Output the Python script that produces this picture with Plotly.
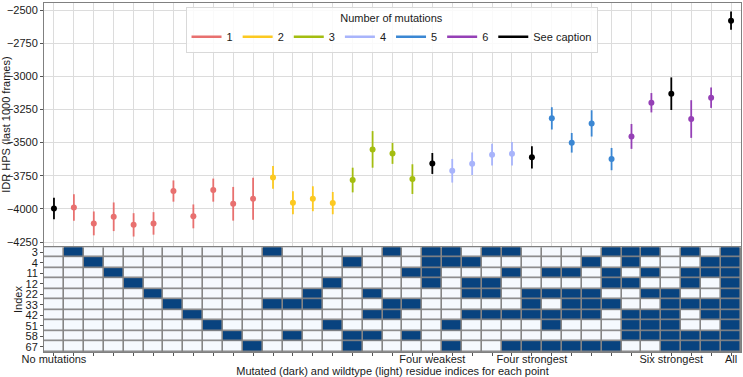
import plotly.graph_objects as go

# ---------------- data ----------------
positions = list(range(35))
hps_mean = [-3996, -3989, -4109, -4059, -4120, -4109, -3865, -4056, -3858, -3961,
            -3923, -3762, -3953, -3923, -3956, -3782, -3551, -3581, -3775, -3657,
            -3712, -3659, -3591, -3584, -3611, -3317, -3501, -3355, -3624, -3453,
            -3199, -3131, -3322, -3161, -2580]
hps_err = [81, 100, 90, 108, 88, 85, 80, 90, 87, 127,
           159, 85, 87, 94, 84, 93, 138, 79, 112, 79,
           89, 85, 82, 88, 84, 84, 74, 99, 84, 94,
           73, 123, 142, 77, 68]
group = (["See caption"] + ["1"] * 10 + ["2"] * 4 + ["3"] * 4 + ["See caption"] +
         ["4"] * 4 + ["See caption"] + ["5"] * 4 + ["6"] * 2 + ["See caption"] +
         ["6"] * 2 + ["See caption"])
groups = ["1", "2", "3", "4", "5", "6", "See caption"]
group_colors = ["#e8706f", "#fcc921", "#a4bd10", "#a8b4fb", "#3b87d3", "#9540b6", "#000000"]

residues = ["3", "4", "11", "12", "22", "33", "42", "51", "58", "67"]
mutated_points = {
    "3":  [1, 11, 17, 19, 20, 22, 23, 28, 29, 30, 32, 34],
    "4":  [2, 15, 19, 20, 21, 27, 29, 33, 34],
    "11": [3, 18, 19, 23, 25, 26, 28, 30, 32, 33, 34],
    "12": [4, 14, 19, 21, 22, 28, 29, 32, 34],
    "22": [5, 13, 16, 21, 22, 24, 25, 26, 27, 30, 31, 34],
    "33": [6, 11, 12, 13, 17, 18, 24, 26, 27, 28, 31, 32, 33, 34],
    "42": [7, 16, 17, 21, 22, 23, 24, 25, 26, 27, 29, 30, 31, 33, 34],
    "51": [8, 14, 20, 25, 29, 30, 31, 34],
    "58": [9, 12, 15, 16, 18, 29, 30, 31, 32, 33, 34],
    "67": [10, 15, 20, 23, 24, 25, 26, 27, 28, 31, 32, 33, 34],
}
point_labels = {0: "No mutations", 19: "Four weakest", 24: "Four strongest",
                31: "Six strongest", 34: "All"}
y_ticks = [-4250, -4000, -3750, -3500, -3250, -3000, -2750, -2500]

# ---------------- figure ----------------
FONT = "Liberation Sans, Arial, Helvetica, sans-serif"
fig = go.Figure()

for g, c in zip(groups, group_colors):
    xs = [p for p, gg in zip(positions, group) if gg == g]
    ys = [m for m, gg in zip(hps_mean, group) if gg == g]
    es = [e for e, gg in zip(hps_err, group) if gg == g]
    fig.add_trace(go.Scatter(
        x=xs, y=ys, mode="markers", xaxis="x", yaxis="y",
        marker=dict(color=c, size=6),
        error_y=dict(type="data", array=es, visible=True, color=c,
                     thickness=1.8, width=0),
        showlegend=False, hoverinfo="x+y"))
    # legend handle as a line
    fig.add_trace(go.Scatter(
        x=[None], y=[None], mode="lines", xaxis="x", yaxis="y",
        line=dict(color=c, width=2.5), name=g, showlegend=True))

z = [[1 if p in mutated_points[r] else 0 for p in positions] for r in residues]
fig.add_trace(go.Heatmap(
    z=z, x=positions, y=residues, xaxis="x2", yaxis="y2",
    colorscale=[[0, "#f5f9fe"], [1, "#08437f"]], zmin=0, zmax=1,
    showscale=False, xgap=1.6, ygap=1.6, hoverinfo="skip"))

tick_text = [point_labels.get(p, "") for p in positions]

fig.update_layout(
    width=743, height=377,
    margin=dict(l=44, r=2, t=3, b=25),
    paper_bgcolor="white", plot_bgcolor="white",
    font=dict(family=FONT, size=11, color="#1a1a1a"),
    xaxis=dict(domain=[0, 1], range=[-0.5, 34.5], anchor="y",
               showticklabels=False, tickmode="linear", tick0=0, dtick=1,
               showgrid=True, gridcolor="#dcdcdc", gridwidth=1,
               zeroline=False, showline=True, linecolor="#808080",
               linewidth=1, mirror=True, ticks="", automargin=False),
    yaxis=dict(domain=[0.3035, 1], range=[-4280, -2447], anchor="x",
               tickvals=y_ticks,
               ticktext=[str(v).replace("-", "\u2212") for v in y_ticks],
               showgrid=True, gridcolor="#dcdcdc", gridwidth=1,
               zeroline=False, showline=True, linecolor="#808080",
               linewidth=1, mirror=True, ticks="outside", ticklen=3,
               tickcolor="#555555", automargin=False,
               title=dict(text="IDR HPS (last 1000 frames)",
                          font=dict(size=11))),
    xaxis2=dict(domain=[0, 1], range=[-0.5, 34.5], anchor="y2",
                tickmode="array", tickvals=positions, ticktext=tick_text,
                ticks="outside", ticklen=3, tickcolor="#555555",
                ticklabelstandoff=-6,
                showgrid=False, zeroline=False, showline=True,
                linecolor="#808080", linewidth=1, mirror=True,
                tickangle=0, automargin=False,
                title=dict(text="Mutated (dark) and wildtype (light) residue indices for each point",
                           font=dict(size=11))),
    yaxis2=dict(domain=[0, 0.3005], anchor="x2", autorange="reversed",
                type="category", tickmode="array", tickvals=residues,
                ticktext=residues, ticks="outside", ticklen=3,
                tickcolor="#555555", showgrid=False, zeroline=False,
                showline=True, linecolor="#808080", linewidth=1, mirror=True,
                automargin=True,
                title=dict(text="Index", standoff=0, font=dict(size=11))),
    legend=dict(orientation="h", x=0.4986, xanchor="center",
                y=0.9885, yanchor="top",
                bgcolor="rgba(255,255,255,0.85)", bordercolor="#d9d9d9",
                borderwidth=1, font=dict(size=11), itemwidth=30,
                title=dict(text="Number of mutations", side="top center",
                           font=dict(size=11))),
    shapes=[dict(type="rect", xref="x2 domain", yref="y2 domain",
                 x0=0, x1=1, y0=0, y1=1, fillcolor="#858585",
                 line=dict(width=0), layer="below")],
)

fig.write_html("out.html")
